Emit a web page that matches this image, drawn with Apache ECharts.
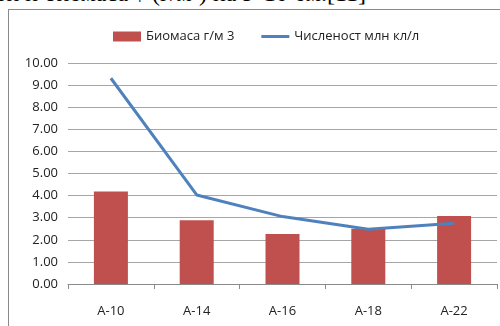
<!DOCTYPE html>
<html>
<head>
<meta charset="utf-8">
<script src="https://cdn.jsdelivr.net/npm/echarts@6/dist/echarts.min.js"></script>
<style>
  html, body { margin: 0; padding: 0; background: #fff; }
  #wrap { position: relative; width: 500px; height: 326px; overflow: hidden; }
  #caption {
    position: absolute; left: -4px; top: -20px; white-space: nowrap;
    font-family: "Liberation Serif", serif; font-size: 24px; color: #000;
  }
  #frame {
    position: absolute; left: 8px; top: 9px; width: 500px; height: 330px;
    border-left: 1px solid #8a8a8a; border-top: 1px solid #8a8a8a;
  }
  #chart { position: absolute; left: 0; top: 0; width: 500px; height: 326px; }
</style>
</head>
<body>
<div id="wrap">
  <div id="caption">ти и биомаса ↑ (г/м³) на Р-10 6м.[11]</div>
  <div id="frame"></div>
  <div id="chart"></div>
</div>
<script>
// Stations along the profile
const stations = ['A-10', 'A-14', 'A-16', 'A-18', 'A-22'];
// Biomass, g/m3 (columns)
const biomass = [4.18, 2.88, 2.26, 2.50, 3.08];
// Abundance, million cells/l (line)
const abundance = [9.31, 4.03, 3.05, 2.48, 2.75];
// Value axis range
const yMin = 0, yMax = 10, yStep = 1;

const font = '"Open Sans", "Liberation Sans", sans-serif';
// Thin bar centred in a 28x10 box, used as the line-series legend key
const lineKey = 'path://M0,0M0,3.5H28V6.5H0ZM28,10';

const chart = echarts.init(document.getElementById('chart'), null, { renderer: 'canvas' });
chart.setOption({
  animation: false,
  textStyle: { fontFamily: font },
  legend: {
    top: 25, left: 108, itemGap: 27, itemWidth: 28, itemHeight: 10,
    textStyle: { fontFamily: font, fontSize: 13, color: '#222' },
    data: [
      { name: 'Биомаса г/м 3', icon: 'rect' },
      { name: 'Численост млн кл/л', icon: lineKey }
    ]
  },
  grid: { left: 68, right: 3, top: 63, bottom: 42 },
  xAxis: {
    type: 'category', data: stations,
    axisLine: { lineStyle: { color: '#8a8a8a' } },
    axisTick: { show: true, length: 5, lineStyle: { color: '#8a8a8a' } },
    axisLabel: { color: '#222', fontSize: 13, margin: 21, fontFamily: font }
  },
  yAxis: {
    type: 'value', min: yMin, max: yMax, interval: yStep,
    axisLine: { show: false }, axisTick: { show: false },
    axisLabel: { color: '#222', fontSize: 13, margin: 10, fontFamily: font,
      formatter: v => v.toFixed(2) },
    splitLine: { lineStyle: { color: '#a6a6a6', width: 1 } }
  },
  series: [
    {
      name: 'Биомаса г/м 3', type: 'bar', data: biomass,
      barWidth: 34, itemStyle: { color: '#C0504D' }
    },
    {
      name: 'Численост млн кл/л', type: 'line', data: abundance,
      symbol: 'none', lineStyle: { color: '#4F81BD', width: 3 },
      itemStyle: { color: '#4F81BD' }
    }
  ]
});
</script>
</body>
</html>
